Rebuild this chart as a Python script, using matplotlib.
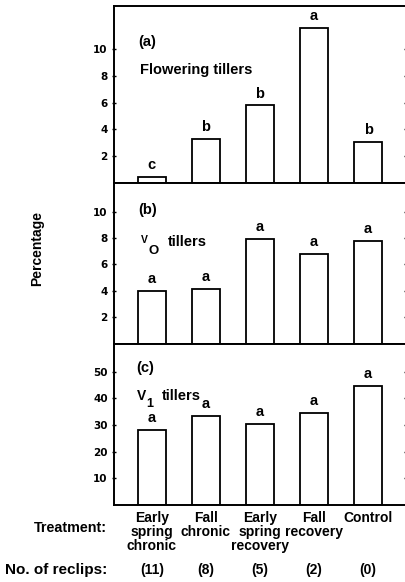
import matplotlib
matplotlib.use("Agg")
import matplotlib.pyplot as plt
import numpy as np

plt.rcParams['font.family'] = ['Liberation Sans', 'DejaVu Sans']
plt.rcParams['font.weight'] = 'bold'

treatments = ["Early\nspring\nchronic", "Fall\nchronic", "Early\nspring\nrecovery", "Fall\nrecovery", "Control"]
reclips = ["(11)", "(8)", "(5)", "(2)", "(0)"]

flowering = [0.45, 3.3, 5.8, 11.6, 3.05]
flowering_letters = ["c", "b", "b", "a", "b"]
v0 = [4.0, 4.15, 7.95, 6.8, 7.75]
v0_letters = ["a", "a", "a", "a", "a"]
v1 = [28.1, 33.4, 30.4, 34.5, 44.6]
v1_letters = ["a", "a", "a", "a", "a"]

W, H = 406, 582
fig = plt.figure(figsize=(W / 100, H / 100), dpi=100)

def fy(px):
    return 1 - px / H

def fx(px):
    return px / W

left = 114 / W
right = 1.0
panels = [
    (6, 183, flowering, flowering_letters, 13.23, [2, 4, 6, 8, 10]),
    (183, 343.5, v0, v0_letters, 12.16, [2, 4, 6, 8, 10]),
    (343.5, 505, v1, v1_letters, 60.6, [10, 20, 30, 40, 50]),
]
x = np.arange(len(treatments))
axes = []
for top, bot, vals, letters, ymax, ticks in panels:
    ax = fig.add_axes([left, fy(bot), right - left, (bot - top) / H])
    ax.bar(x, vals, width=0.52, color='white', edgecolor='black', linewidth=1.3)
    for xi, v, l in zip(x, vals, letters):
        ax.annotate(l, (xi, v), xytext=(0, 3.5), textcoords='offset points',
                    ha='center', va='bottom', fontsize=10.5, fontweight='bold')
    ax.set_xlim(-0.70, 4.70)
    ax.set_ylim(0, ymax)
    ax.set_yticks(ticks)
    ax.set_yticklabels([str(t) for t in ticks], fontsize=7.5, fontweight='bold',
                       family='DejaVu Sans')
    ax.set_xticks([])
    ax.tick_params(axis='y', direction='inout', length=3, width=1, pad=3,
                   right=True, labelright=False)
    ax.spines['right'].set_visible(False)
    for s in ['left', 'top', 'bottom']:
        ax.spines[s].set_linewidth(1.4)
    axes.append(ax)

fs = 10.5
fig.text(fx(138), fy(42), "(a)", fontsize=fs, fontweight='bold', va='center')
fig.text(fx(140), fy(74), "Flowering tillers", fontsize=fs, fontweight='bold', va='baseline')
fig.text(fx(138), fy(210), "(b)", fontsize=fs, fontweight='bold', va='center')
fig.text(fx(141), fy(243), "V", fontsize=7.5, fontweight='bold', va='baseline')
fig.text(fx(148.5), fy(254), "O", fontsize=9.5, fontweight='bold', va='baseline')
fig.text(fx(168), fy(242), "tillers", fontsize=fs, fontweight='bold', va='center')
fig.text(fx(136), fy(368), "(c)", fontsize=fs, fontweight='bold', va='center')
fig.text(fx(136.5), fy(400), "V", fontsize=10, fontweight='bold', va='baseline')
fig.text(fx(146), fy(407), "1", fontsize=9, fontweight='bold', va='baseline')
fig.text(fx(162), fy(396), "tillers", fontsize=fs, fontweight='bold', va='center')

fig.text(fx(37), fy(248), "Percentage", rotation=90, ha='center', va='center', fontsize=10, fontweight='bold')

for xi, t, r in zip(x, treatments, reclips):
    xf = axes[2].transData.transform((xi, 0))
    xfig = fig.transFigure.inverted().transform(xf)[0]
    fig.text(xfig, fy(511), t, ha='center', va='top', fontsize=10, fontweight='bold', linespacing=0.98)
    fig.text(xfig, fy(570), r, ha='center', va='center', fontsize=10, fontweight='bold')

fig.text(fx(107), fy(528), "Treatment:", ha='right', va='center', fontsize=10.3, fontweight='bold')
fig.text(fx(107), fy(570), "No. of reclips:", ha='right', va='center', fontsize=11, fontweight='bold')

fig.savefig("out.png", dpi=100)
